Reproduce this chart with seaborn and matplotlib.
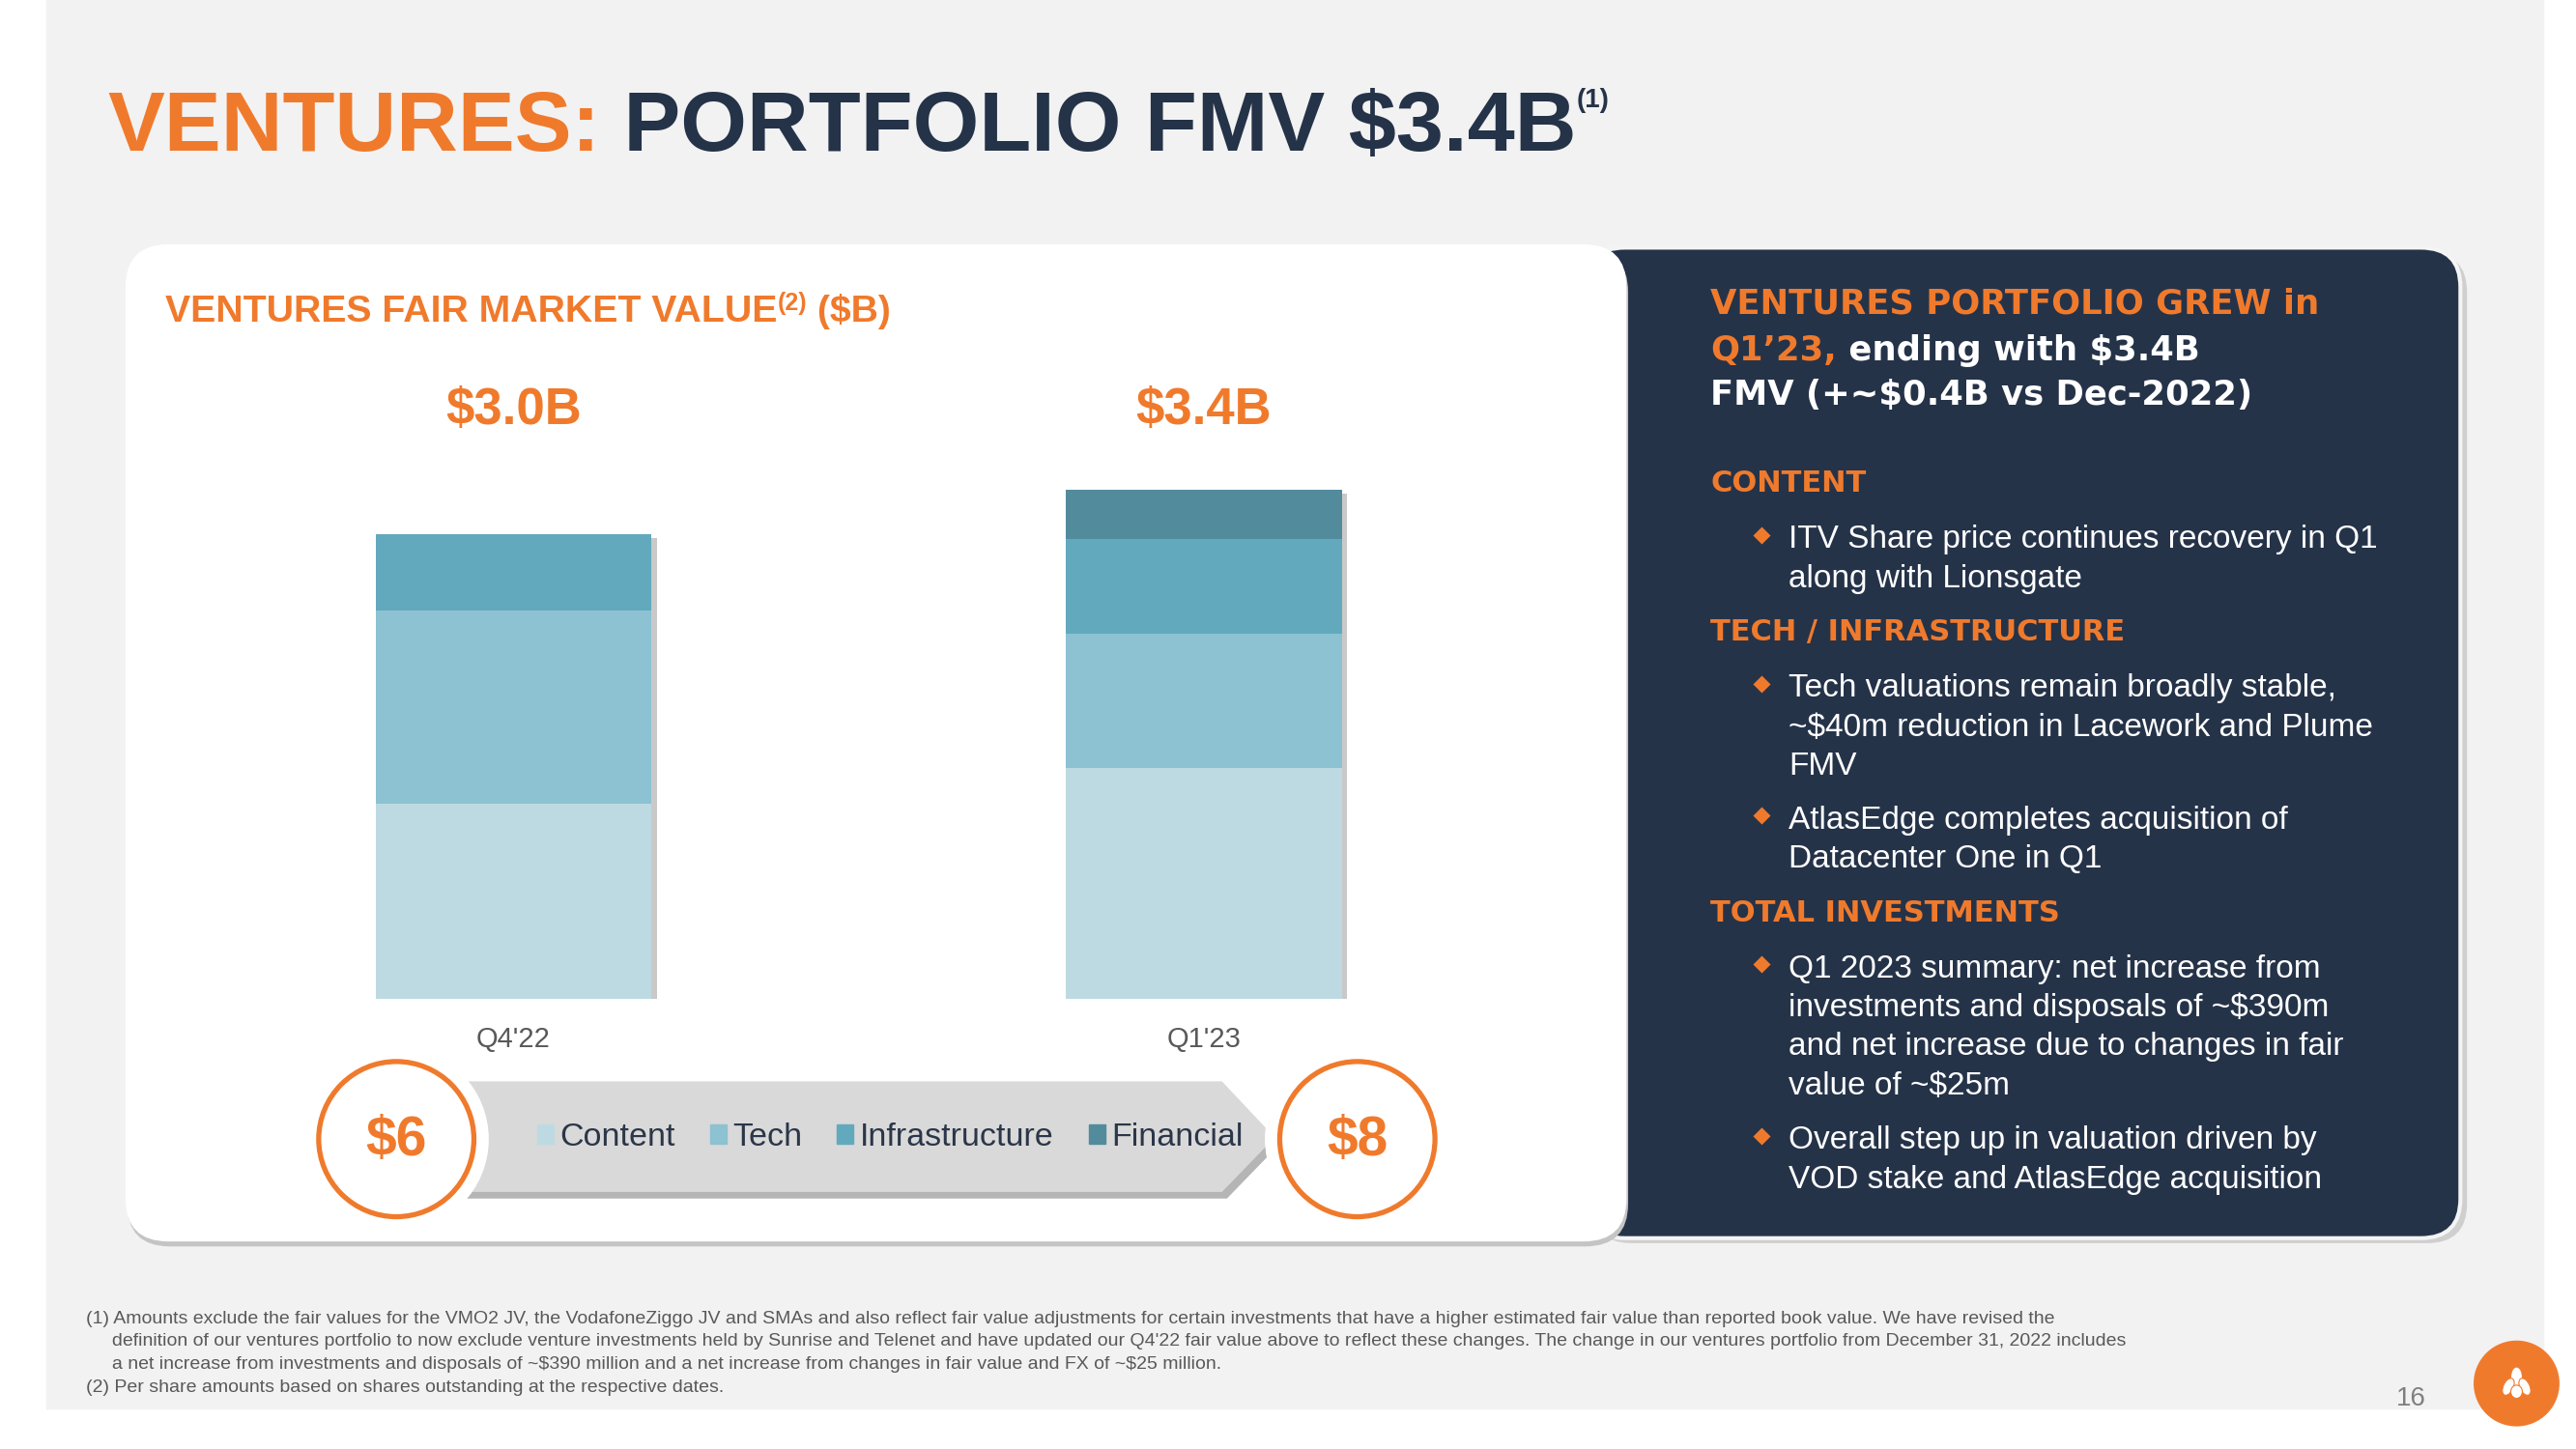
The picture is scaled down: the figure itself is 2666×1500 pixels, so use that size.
import matplotlib
matplotlib.use("Agg")
import matplotlib.pyplot as plt
import matplotlib.patches as mpatches
import matplotlib.patheffects as pe
import pandas as pd
import seaborn as sns

# ---- data ($B) ----
periods = ["Q4'22", "Q1'23"]
content = [1.26, 1.49]
tech = [1.25, 0.87]
infrastructure = [0.49, 0.61]
financial = [0.00, 0.32]
total_labels = ["$3.0B", "$3.4B"]
per_share = ["$6", "$8"]
segments = ["Content", "Tech", "Infrastructure", "Financial"]
seg_colors = ["#bddae2", "#8cc2d1", "#63a9bd", "#528c9c"]

footnotes = [
    "(1) Amounts exclude the fair values for the VMO2 JV, the VodafoneZiggo JV and SMAs and also reflect fair value adjustments for certain investments that have a higher estimated fair value than reported book value. We have revised the",
    "     definition of our ventures portfolio to now exclude venture investments held by Sunrise and Telenet and have updated our Q4'22 fair value above to reflect these changes. The change in our ventures portfolio from December 31, 2022 includes",
    "     a net increase from investments and disposals of ~$390 million and a net increase from changes in fair value and FX of ~$25 million.",
    "(2) Per share amounts based on shares outstanding at the respective dates.",
]

ORANGE = "#f07a2c"
NAVY = "#253349"
GRAY = "#595959"

# slide is laid out in a 1560 x 878 grid
W, H = 1560, 877.7

sns.set_theme(style="white")
plt.rcParams["font.family"] = ["Liberation Sans", "DejaVu Sans"]

fig = plt.figure(figsize=(26.66, 15), dpi=100)
fig.patch.set_facecolor("white")
bg = fig.add_axes([0, 0, 1, 1])
bg.set_xlim(0, W)
bg.set_ylim(H, 0)
bg.axis("off")
renderer = fig.canvas.get_renderer()


def runs(x, y, parts, **kw):
    # draw text pieces one after another on the same baseline
    for txt, props in parts:
        opts = dict(kw)
        opts.update(props)
        dy = opts.pop("dy", 0)
        t = bg.text(x, y + dy, txt, va="baseline", ha="left", parse_math=False, **opts)
        bb = t.get_window_extent(renderer)
        x = bg.transData.inverted().transform((bb.x1, bb.y0))[0]
    return x


# slide background
bg.add_patch(mpatches.Rectangle((28, 0), 1512, 853, color="#f2f2f2", zorder=0))

# navy panel with border and shadow
bg.add_patch(mpatches.FancyBboxPatch((964, 153), 530, 600, boxstyle="round,pad=0,rounding_size=24",
                                     fc="#b8b8b8", ec="none", alpha=0.6, zorder=1))
bg.add_patch(mpatches.FancyBboxPatch((960, 150), 530, 600, boxstyle="round,pad=0,rounding_size=24",
                                     fc=NAVY, ec="#f4f4f4", lw=3, zorder=2))

# white chart card
bg.add_patch(mpatches.FancyBboxPatch((77, 151), 909, 604, boxstyle="round,pad=0,rounding_size=26",
                                     fc="#c4c4c4", ec="none", zorder=3))
bg.add_patch(mpatches.FancyBboxPatch((76, 148), 909, 604, boxstyle="round,pad=0,rounding_size=26",
                                     fc="white", ec="none", zorder=4))

# title
runs(65, 91, [("VENTURES:", dict(color=ORANGE)),
              (" PORTFOLIO FMV $3.4B", dict(color=NAVY)),
              ("(1)", dict(color=NAVY, fontsize=20, dy=-26))],
     fontsize=63.5, fontweight="bold", zorder=5)

# card title
runs(100, 195, [("VENTURES FAIR MARKET VALUE", dict()),
                ("(2)", dict(fontsize=18, dy=-7)),
                (" ($B)", dict())],
     fontsize=28.3, fontweight="bold", color=ORANGE, zorder=5)

# legend arrow with per-share circles
arrow_pts = [(262, 655), (740, 655), (772, 689), (740, 722), (262, 722)]
bg.add_patch(mpatches.Polygon([(px + 3, py + 4) for px, py in arrow_pts], fc="#b5b5b5", ec="none", zorder=5))
bg.add_patch(mpatches.Polygon(arrow_pts, fc="#d9d9d9", ec="none", zorder=6))
for cx, lab in zip([240, 822], per_share):
    bg.add_patch(mpatches.Circle((cx, 690), 56, fc="white", ec="none", zorder=7))
    bg.add_patch(mpatches.Circle((cx, 690), 47, fc="white", ec=ORANGE, lw=3.8, zorder=8))
    bg.text(cx, 691, lab, ha="center", va="center", fontsize=41, fontweight="bold",
            color=ORANGE, zorder=9, parse_math=False)

# ---- stacked bars (seaborn) ----
x0, step, ppb, base = 311, 418, 93.8, 605
ax = fig.add_axes([100 / W, 1 - base / H, 860 / W, 335 / H])
ax.patch.set_alpha(0)
ax.set_zorder(10)

df = pd.DataFrame({"period": periods, "Content": content, "Tech": tech,
                   "Infrastructure": infrastructure, "Financial": financial})
cum = df[segments].cumsum(axis=1)
for k in range(len(segments) - 1, -1, -1):
    n_before = len(ax.patches)
    sns.barplot(x=df["period"], y=cum[segments[k]], color=seg_colors[k], width=0.4,
                saturation=1, linewidth=0, ax=ax)
    if k == len(segments) - 1:
        for p in ax.patches[n_before:]:
            p.set_path_effects([pe.SimplePatchShadow(offset=(4, -3), shadow_rgbFace="#7a7a7a", alpha=0.4),
                                pe.Normal()])

for i, lab in enumerate(total_labels):
    ax.text(i, 3.8, lab, ha="center", va="center", fontsize=38, fontweight="bold",
            color=ORANGE, clip_on=False, parse_math=False)

ax.set_xlim((100 - x0) / step, (960 - x0) / step)
ax.set_ylim(0, (base - 270) / ppb)
ax.set_yticks([])
ax.set_xlabel("")
ax.set_ylabel("")
ax.tick_params(axis="x", length=0, pad=20, labelsize=21, labelcolor=GRAY)
sns.despine(ax=ax, left=True, bottom=True)

handles = [mpatches.Patch(color=c, label=s) for s, c in zip(segments, seg_colors)]
leg = ax.legend(handles=handles, loc="center", bbox_to_anchor=(539, 689), bbox_transform=bg.transData,
                ncol=4, frameon=False, fontsize=24.5, handlelength=0.5, handleheight=0.5,
                handletextpad=0.2, columnspacing=1.05, borderaxespad=0)
for t in leg.get_texts():
    t.set_color("#2b3648")

# ---- right panel text ----
HEAD = dict(family=["DejaVu Sans"], fontweight="bold", zorder=5)
runs(1036, 190, [("VENTURES PORTFOLIO GREW in", dict(color=ORANGE))], fontsize=25.5, **HEAD)
runs(1036, 218, [("Q1\u201923,", dict(color=ORANGE)), (" ending with $3.4B", dict(color="white"))],
     fontsize=25.5, **HEAD)
runs(1036, 245, [("FMV (+~$0.4B vs Dec-2022)", dict(color="white"))], fontsize=25.5, **HEAD)

sections = [
    ("CONTENT", 298, [(325, ["ITV Share price continues recovery in Q1", "along with Lionsgate"])]),
    ("TECH / INFRASTRUCTURE", 388, [(415, ["Tech valuations remain broadly stable,",
                                           "~$40m reduction in Lacework and Plume", "FMV"]),
                                    (495, ["AtlasEdge completes acquisition of", "Datacenter One in Q1"])]),
    ("TOTAL INVESTMENTS", 558, [(585, ["Q1 2023 summary: net increase from",
                                       "investments and disposals of ~$390m",
                                       "and net increase due to changes in fair",
                                       "value of ~$25m"]),
                                (689, ["Overall step up in valuation driven by",
                                       "VOD stake and AtlasEdge acquisition"])]),
]
for head, hy, bullets in sections:
    bg.text(1036, hy, head, color=ORANGE, fontsize=22, va="baseline", **HEAD)
    for by, lines in bullets:
        bg.plot([1067], [by - 1], marker="D", ms=9, color=ORANGE, mec="none", zorder=5)
        for j, line in enumerate(lines):
            bg.text(1083, by + 7 + j * 23.6, line, color="white", fontsize=24,
                    va="baseline", zorder=5, parse_math=False)

# footnotes, page number, logo
for j, line in enumerate(footnotes):
    bg.text(52, 801.5 + j * 13.8, line, color=GRAY, fontsize=14, va="baseline", zorder=5,
            parse_math=False)
bg.text(1460, 847, "16", color="#7f7f7f", fontsize=20, ha="center", va="center", zorder=5)
bg.add_patch(mpatches.Circle((1524, 838), 26, fc=ORANGE, ec="none", zorder=5))
# small pine-cone style mark inside the logo
for ex, ey, ew, eh, ang in [(1524, 834, 7, 12, 0), (1519, 840, 6, 11, 25), (1529, 840, 6, 11, -25),
                            (1524, 843, 7, 8, 0)]:
    bg.add_patch(mpatches.Ellipse((ex, ey), ew, eh, angle=ang, fc="white", ec=ORANGE, lw=0.8, zorder=6))

fig.savefig("out.png", dpi=100, facecolor="white")
